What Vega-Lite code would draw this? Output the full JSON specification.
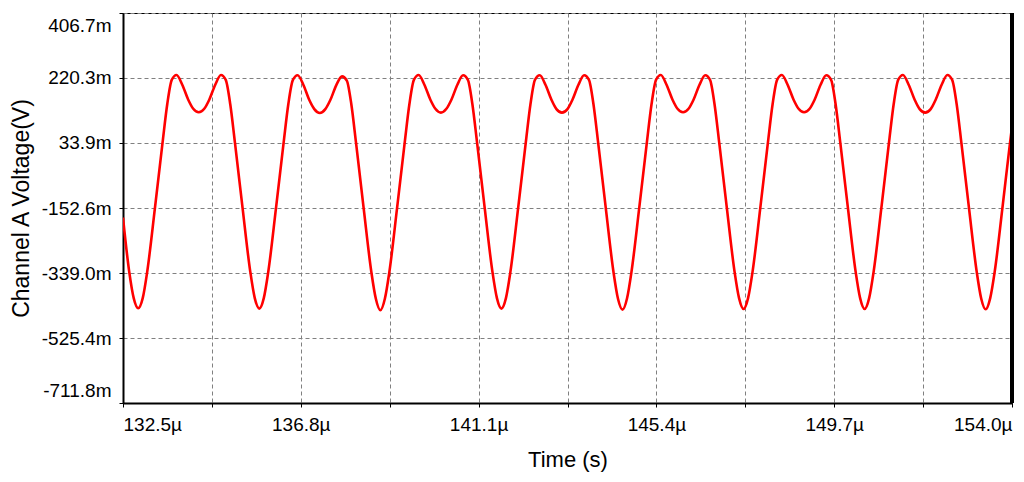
{
  "$schema": "https://vega.github.io/schema/vega-lite/v6.json",
  "autosize": "none",
  "width": 889,
  "height": 390,
  "padding": {"left": 123, "top": 13, "right": 12, "bottom": 79},
  "background": "white",
  "config": {
    "view": {"stroke": "#000000", "strokeWidth": 1},
    "font": "Liberation Sans"
  },
  "data": {
    "values": [
      {"t": 132.5, "v": -180}, {"t": 132.65, "v": -335}, {"t": 132.759, "v": -411},
      {"t": 132.868, "v": -440}, {"t": 132.977, "v": -411}, {"t": 133.086, "v": -335}, {"t": 133.272, "v": -153}, {"t": 133.456, "v": 34}, {"t": 133.57, "v": 145}, {"t": 133.679, "v": 215}, {"t": 133.795, "v": 229}, {"t": 133.933, "v": 201}, {"t": 134.078, "v": 158}, {"t": 134.199, "v": 132}, {"t": 134.332, "v": 122}, {"t": 134.465, "v": 132}, {"t": 134.586, "v": 158}, {"t": 134.731, "v": 201}, {"t": 134.869, "v": 229}, {"t": 134.985, "v": 215}, {"t": 135.094, "v": 145}, {"t": 135.208, "v": 34}, {"t": 135.392, "v": -153}, {"t": 135.578, "v": -335}, {"t": 135.687, "v": -411},
      {"t": 135.796, "v": -441}, {"t": 135.905, "v": -411}, {"t": 136.014, "v": -335}, {"t": 136.2, "v": -153}, {"t": 136.384, "v": 34}, {"t": 136.498, "v": 145}, {"t": 136.607, "v": 214}, {"t": 136.723, "v": 228}, {"t": 136.861, "v": 201}, {"t": 137.006, "v": 157}, {"t": 137.127, "v": 131}, {"t": 137.26, "v": 120}, {"t": 137.393, "v": 131}, {"t": 137.514, "v": 157}, {"t": 137.659, "v": 200}, {"t": 137.797, "v": 225}, {"t": 137.913, "v": 213}, {"t": 138.022, "v": 145}, {"t": 138.136, "v": 34}, {"t": 138.32, "v": -153}, {"t": 138.506, "v": -336}, {"t": 138.615, "v": -413},
      {"t": 138.724, "v": -446}, {"t": 138.833, "v": -413}, {"t": 138.942, "v": -336}, {"t": 139.128, "v": -153}, {"t": 139.312, "v": 34}, {"t": 139.426, "v": 145}, {"t": 139.535, "v": 215}, {"t": 139.651, "v": 229}, {"t": 139.789, "v": 201}, {"t": 139.934, "v": 158}, {"t": 140.055, "v": 132}, {"t": 140.188, "v": 121}, {"t": 140.321, "v": 132}, {"t": 140.442, "v": 158}, {"t": 140.587, "v": 201}, {"t": 140.725, "v": 228}, {"t": 140.841, "v": 215}, {"t": 140.95, "v": 145}, {"t": 141.064, "v": 34}, {"t": 141.248, "v": -153}, {"t": 141.434, "v": -335}, {"t": 141.543, "v": -411},
      {"t": 141.652, "v": -441}, {"t": 141.761, "v": -411}, {"t": 141.87, "v": -335}, {"t": 142.056, "v": -153}, {"t": 142.24, "v": 34}, {"t": 142.354, "v": 145}, {"t": 142.463, "v": 215}, {"t": 142.579, "v": 228}, {"t": 142.717, "v": 201}, {"t": 142.862, "v": 158}, {"t": 142.983, "v": 131}, {"t": 143.116, "v": 121}, {"t": 143.249, "v": 131}, {"t": 143.37, "v": 158}, {"t": 143.515, "v": 201}, {"t": 143.653, "v": 228}, {"t": 143.769, "v": 215}, {"t": 143.878, "v": 145}, {"t": 143.992, "v": 34}, {"t": 144.176, "v": -153}, {"t": 144.362, "v": -336}, {"t": 144.471, "v": -413},
      {"t": 144.58, "v": -444}, {"t": 144.689, "v": -412}, {"t": 144.798, "v": -335}, {"t": 144.984, "v": -153}, {"t": 145.168, "v": 34}, {"t": 145.282, "v": 145}, {"t": 145.391, "v": 215}, {"t": 145.507, "v": 229}, {"t": 145.645, "v": 201}, {"t": 145.79, "v": 158}, {"t": 145.911, "v": 132}, {"t": 146.044, "v": 122}, {"t": 146.177, "v": 132}, {"t": 146.298, "v": 158}, {"t": 146.443, "v": 201}, {"t": 146.581, "v": 228}, {"t": 146.697, "v": 215}, {"t": 146.806, "v": 145}, {"t": 146.92, "v": 34}, {"t": 147.104, "v": -153}, {"t": 147.29, "v": -335}, {"t": 147.399, "v": -411},
      {"t": 147.508, "v": -442}, {"t": 147.617, "v": -411}, {"t": 147.726, "v": -335}, {"t": 147.912, "v": -153}, {"t": 148.096, "v": 34}, {"t": 148.21, "v": 145}, {"t": 148.319, "v": 215}, {"t": 148.435, "v": 229}, {"t": 148.573, "v": 201}, {"t": 148.718, "v": 158}, {"t": 148.839, "v": 132}, {"t": 148.972, "v": 122}, {"t": 149.105, "v": 132}, {"t": 149.226, "v": 158}, {"t": 149.371, "v": 201}, {"t": 149.509, "v": 228}, {"t": 149.625, "v": 215}, {"t": 149.734, "v": 145}, {"t": 149.848, "v": 34}, {"t": 150.032, "v": -153}, {"t": 150.218, "v": -335}, {"t": 150.327, "v": -411},
      {"t": 150.436, "v": -442}, {"t": 150.545, "v": -411}, {"t": 150.654, "v": -335}, {"t": 150.84, "v": -153}, {"t": 151.024, "v": 34}, {"t": 151.138, "v": 145}, {"t": 151.247, "v": 215}, {"t": 151.363, "v": 229}, {"t": 151.501, "v": 201}, {"t": 151.646, "v": 158}, {"t": 151.767, "v": 131}, {"t": 151.9, "v": 121}, {"t": 152.033, "v": 131}, {"t": 152.154, "v": 158}, {"t": 152.299, "v": 201}, {"t": 152.437, "v": 229}, {"t": 152.553, "v": 215}, {"t": 152.662, "v": 145}, {"t": 152.776, "v": 34}, {"t": 152.96, "v": -153}, {"t": 153.146, "v": -335}, {"t": 153.255, "v": -412},
      {"t": 153.364, "v": -443}, {"t": 153.473, "v": -411}, {"t": 153.582, "v": -335}, {"t": 153.768, "v": -153}, {"t": 153.952, "v": 34}, {"t": 154.0, "v": 80}
    ]
  },
  "layer": [
    {
      "mark": {"type": "line", "color": "#ff0000", "strokeWidth": 2.6, "interpolate": "monotone", "clip": true},
      "encoding": {
        "x": {
          "field": "t",
          "type": "quantitative",
          "scale": {"domain": [132.5, 154.0], "nice": false, "zero": false},
          "axis": {
            "values": [132.5, 134.65, 136.8, 138.95, 141.1, 143.25, 145.4, 147.55, 149.7, 151.85, 154.0],
            "labelExpr": "abs((datum.value - 132.5) / 4.3 - round((datum.value - 132.5) / 4.3)) < 0.01 ? format(datum.value, '.1f') + 'µ' : ''",
            "title": "Time (s)",
            "titleFontSize": 22,
            "titleFontWeight": "normal",
            "titleColor": "#000000",
            "titlePadding": 15,
            "labelFontSize": 19,
            "labelColor": "#000000",
            "labelFlush": true,
            "labelOverlap": false,
            "labelPadding": 8,
            "tickSize": 4,
            "tickWidth": 1,
            "tickColor": "#000000",
            "domainColor": "#000000",
            "domainWidth": 2,
            "grid": true,
            "gridColor": "#808080",
            "gridDash": [4, 3],
            "gridWidth": 1
          }
        },
        "y": {
          "field": "v",
          "type": "quantitative",
          "scale": {"domain": [-711.8, 406.7], "nice": false, "zero": false},
          "axis": {
            "values": [-711.8, -525.4, -339.0, -152.6, 33.9, 220.3, 406.7],
            "labelExpr": "datum.value < 0 ? '-' + format(abs(datum.value), '.1f') + 'm' : format(datum.value, '.1f') + 'm'",
            "title": "Channel A Voltage(V)",
            "titleFontSize": 23,
            "titleFontWeight": "normal",
            "titleColor": "#000000",
            "titlePadding": 8,
            "labelFontSize": 19,
            "labelColor": "#000000",
            "labelFlush": true,
            "labelFlushOffset": -3,
            "labelOverlap": false,
            "labelPadding": 8,
            "tickSize": 4,
            "tickWidth": 1,
            "tickColor": "#000000",
            "domainColor": "#000000",
            "domainWidth": 2,
            "grid": true,
            "gridColor": "#808080",
            "gridDash": [4, 3],
            "gridWidth": 1
          }
        }
      }
    },
    {
      "mark": {"type": "rule", "color": "#000000", "strokeWidth": 4},
      "encoding": {"x": {"datum": 154.0}}
    }
  ]
}
